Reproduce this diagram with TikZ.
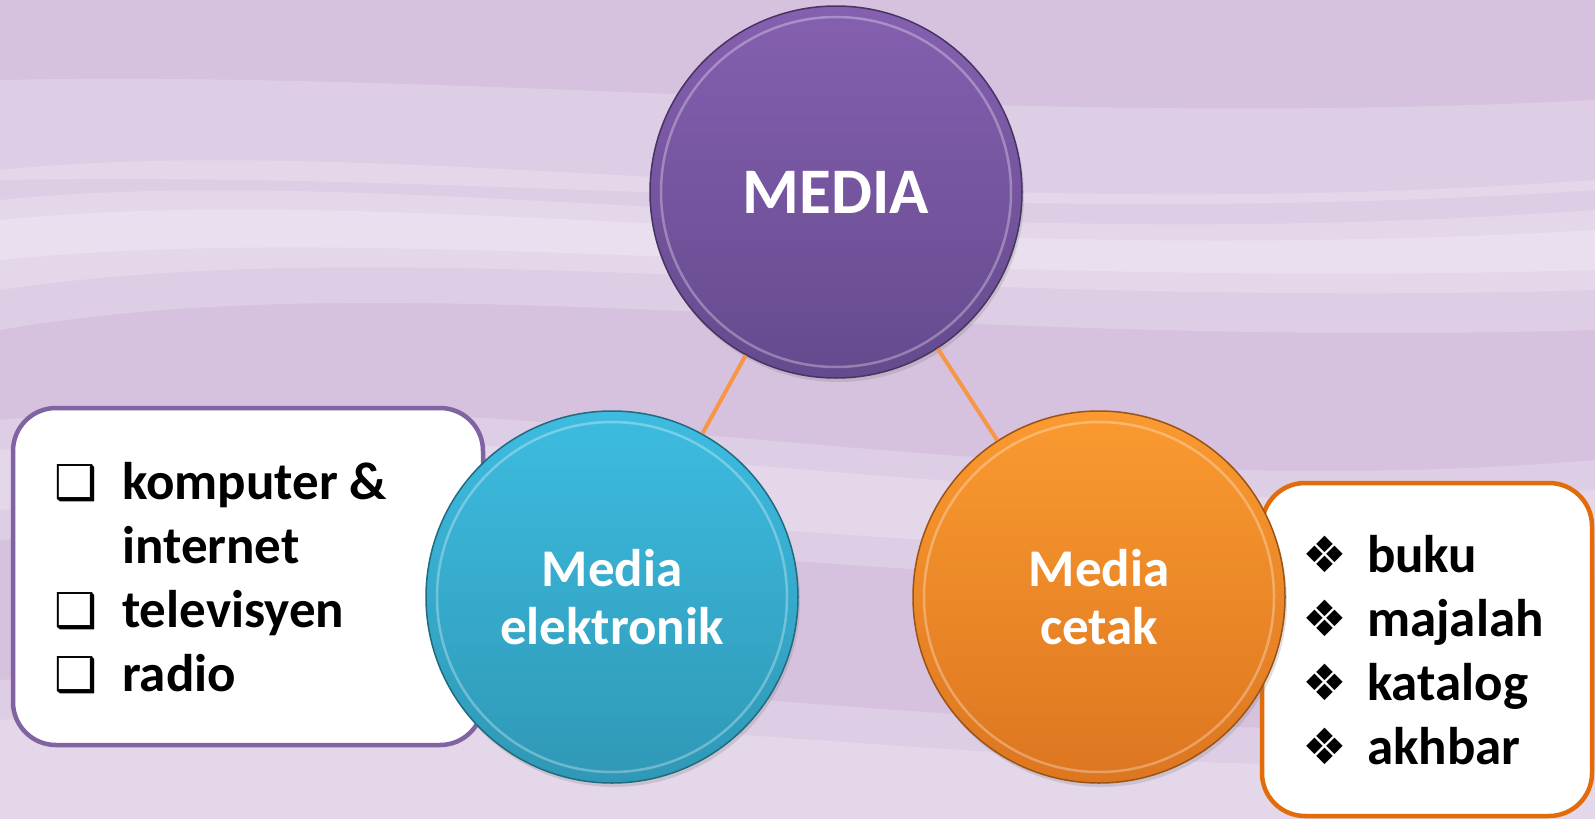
\documentclass[tikz,border=0pt]{standalone}
\usepackage{fontspec}
\setmainfont{Carlito}
\newfontfamily\dingfont{DejaVu Sans}
\usetikzlibrary{shadows}
\definecolor{lilac}{HTML}{D6C2DF}
\definecolor{mediaTop}{HTML}{8560B0}
\definecolor{mediaBot}{HTML}{654A8E}
\definecolor{elekTop}{HTML}{3DBCE0}
\definecolor{elekBot}{HTML}{2F98B6}
\definecolor{cetakTop}{HTML}{FA9A30}
\definecolor{cetakBot}{HTML}{DD7620}
\definecolor{purpleLine}{HTML}{8064A2}
\definecolor{orangeLine}{HTML}{E36C0A}
\definecolor{linkOrange}{HTML}{F79646}
\newcommand{\boxitem}{{\dingfont\fontsize{48}{64}\selectfont\char"2751}}
\newcommand{\diaitem}{{\dingfont\fontsize{50}{64}\selectfont\char"2756}}

\tikzset{
  bubble/.style={circle, minimum size=372pt, inner sep=0pt, text=white, align=center,
    line width=1.5pt, drop shadow={opacity=.25, shadow xshift=2pt, shadow yshift=-4pt},
    path picture={\draw[white, opacity=.3, line width=2.5pt]
      (path picture bounding box.center) circle (175pt);}},
  listbox/.style={draw, fill=white, rounded corners=43pt, line width=4.5pt, inner sep=0pt},
  link/.style={linkOrange, line width=4pt},
  streak/.style={white, opacity=.2},
  itemlist/.style={anchor=north west, inner sep=0pt, align=left,
    font=\bfseries\fontsize{53}{64}\selectfont}
}

\begin{document}
\begin{tikzpicture}[x=1pt, y=-1pt]
  \useasboundingbox (0,0) rectangle (1595,819);
  % background
  \fill[lilac] (0,0) rectangle (1595,819);
  \fill[streak] (0,80) .. controls (500,70) and (1000,130) .. (1595,100)
    -- (1595,190) .. controls (1000,230) and (500,170) .. (0,180) -- cycle;
  \fill[streak] (0,170) .. controls (400,130) and (900,230) .. (1595,180)
    -- (1595,330) .. controls (900,350) and (400,260) .. (0,330) -- cycle;
  \fill[streak] (0,200) .. controls (400,160) and (900,260) .. (1595,210)
    -- (1595,290) .. controls (900,310) and (400,230) .. (0,290) -- cycle;
  \fill[streak] (0,220) .. controls (400,180) and (900,270) .. (1595,230)
    -- (1595,270) .. controls (900,290) and (400,220) .. (0,260) -- cycle;
  \fill[streak] (0,420) .. controls (500,370) and (1000,510) .. (1595,460)
    -- (1595,570) .. controls (1000,620) and (500,500) .. (0,540) -- cycle;
  \fill[streak] (0,450) .. controls (500,400) and (1000,530) .. (1595,490)
    -- (1595,540) .. controls (1000,590) and (500,470) .. (0,510) -- cycle;
  \fill[streak] (0,680) .. controls (500,640) and (1000,760) .. (1595,720)
    -- (1595,819) -- (0,819) -- cycle;
  \fill[streak] (0,720) .. controls (500,680) and (1000,790) .. (1595,760)
    -- (1595,819) -- (0,819) -- cycle;

  % list boxes
  \node[listbox, draw=purpleLine, minimum width=470pt, minimum height=337pt] (elekbox) at (248,576.5) {};
  \node[listbox, draw=orangeLine, minimum width=330pt, minimum height=333pt] (cetakbox) at (1427,649.5) {};

  % circles
  \node[bubble, top color=mediaTop, bottom color=mediaBot, draw=mediaBot!70!black,
    font=\bfseries\fontsize{65}{70}\selectfont] (media) at (836,192) {MEDIA};
  \node[bubble, top color=elekTop, bottom color=elekBot, draw=elekBot!70!black,
    font=\bfseries\fontsize{53}{58}\selectfont] (elek) at (612,597) {Media\\elektronik};
  \node[bubble, top color=cetakTop, bottom color=cetakBot, draw=cetakBot!70!black,
    font=\bfseries\fontsize{53}{58}\selectfont] (cetak) at (1099,597) {Media\\cetak};

  \draw[link] (media) -- (elek);
  \draw[link] (media) -- (cetak);

  % items
  \node[itemlist] (eleklist) at (54,454) {%
    \begin{tabular}{@{}l@{\hspace{25pt}}l@{}}
      \boxitem & komputer \&\\
               & internet\\
      \boxitem & televisyen\\
      \boxitem & radio
    \end{tabular}};
  \node[itemlist] (cetaklist) at (1302,527) {%
    \begin{tabular}{@{}l@{\hspace{20pt}}l@{}}
      \diaitem & buku\\
      \diaitem & majalah\\
      \diaitem & katalog\\
      \diaitem & akhbar
    \end{tabular}};
\end{tikzpicture}
\end{document}
